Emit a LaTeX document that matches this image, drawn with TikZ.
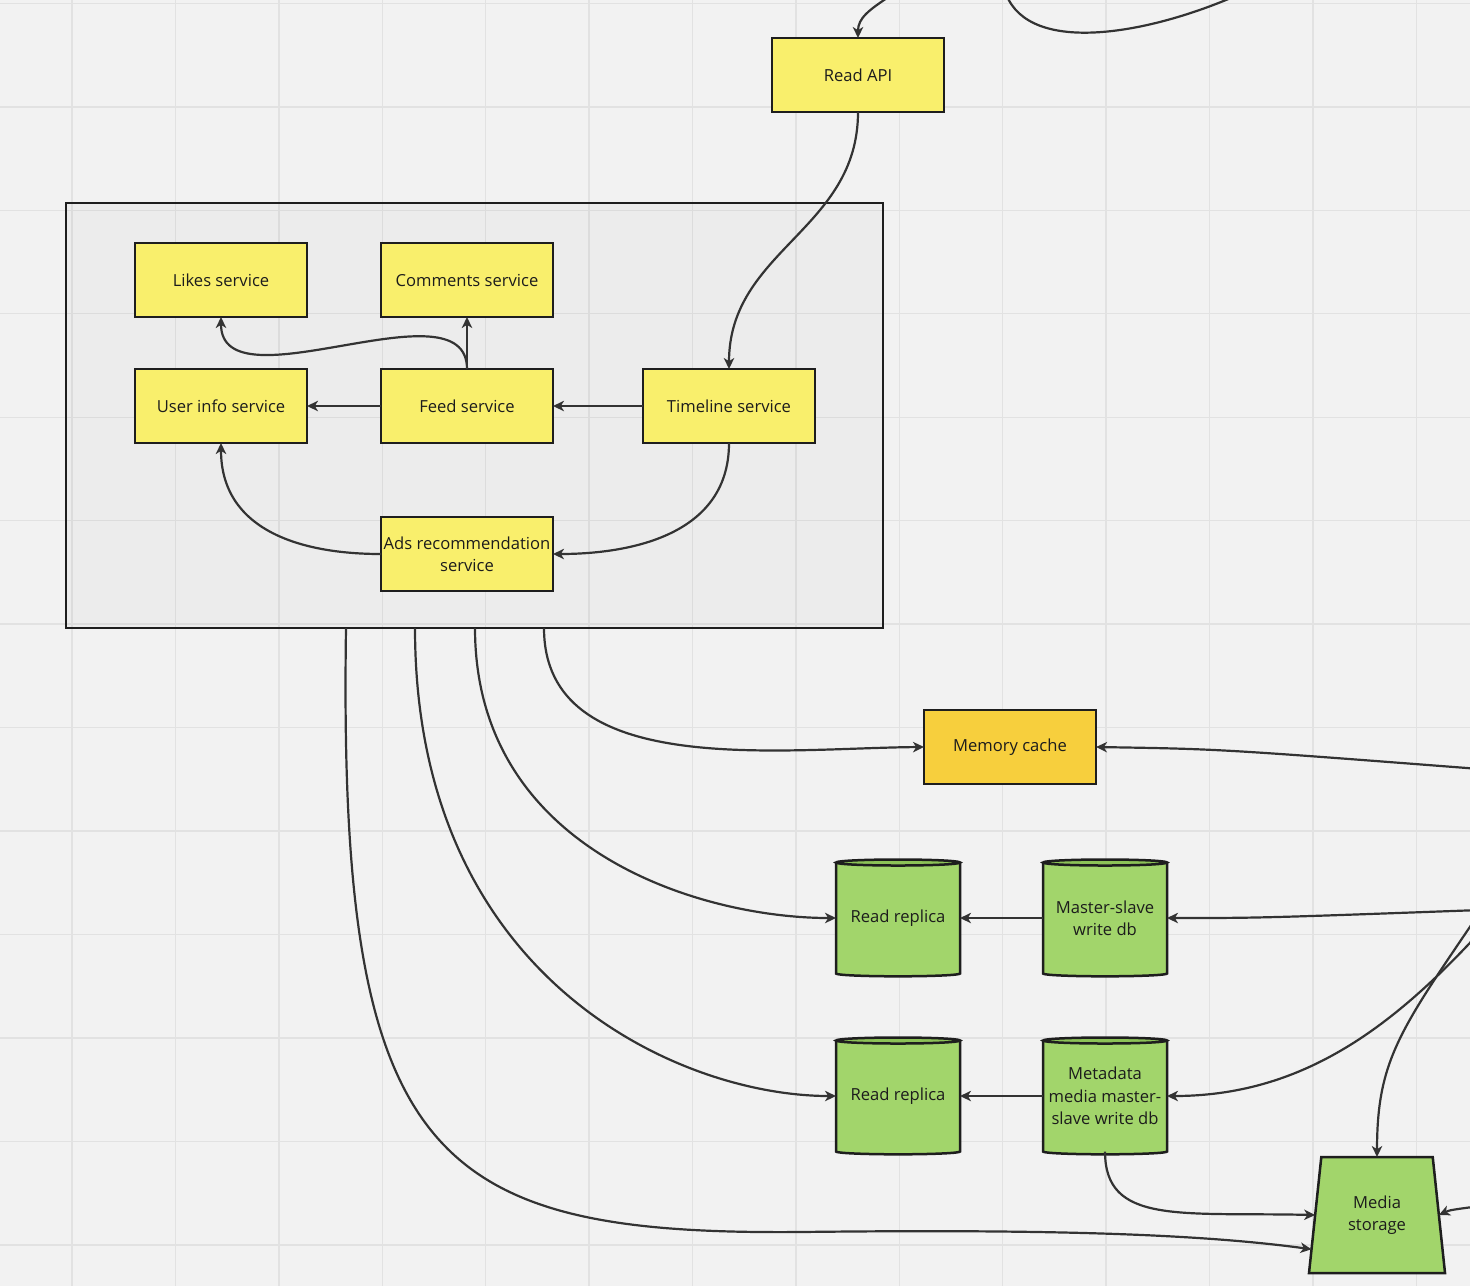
\documentclass[tikz,border=0pt]{standalone}
\usepackage{fontspec}
\setmainfont{Open Sans}
\usetikzlibrary{arrows.meta,calc,shapes.geometric,backgrounds}
\definecolor{bgc}{HTML}{F2F2F2}
\definecolor{gridc}{HTML}{E2E2E2}
\definecolor{yel}{HTML}{F9EF6C}
\definecolor{org}{HTML}{F7CF3D}
\definecolor{grn}{HTML}{A2D56B}
\definecolor{grnd}{HTML}{8CC257}
\definecolor{edgec}{HTML}{1E1E1E}
\definecolor{linec}{HTML}{333333}
\definecolor{txtc}{HTML}{1C1C1C}
\tikzset{
 every node/.style={font=\fontsize{8.3}{11.2}\selectfont, text=txtc},
 ybox/.style={draw=edgec, line width=1.25pt, fill=yel, minimum width=86pt, minimum height=37pt, inner sep=1pt, outer sep=0pt, align=center},
 obox/.style={ybox, fill=org},
 dbnode/.style={minimum width=62pt, minimum height=55.5pt, inner sep=1pt, outer sep=0pt, align=center},
 trap/.style={trapezium, trapezium angle=80.7, trapezium stretches=true, draw=edgec, line width=1.25pt, fill=grn, minimum width=68pt, minimum height=58pt, inner sep=0pt, outer sep=0pt, align=center},
 grpbox/.style={draw=edgec, line width=1pt, fill=black, fill opacity=0.025, minimum width=408.5pt, minimum height=212.5pt, outer sep=0pt},
 conn/.style={draw=linec, line width=1.1pt, -{Stealth[length=5.5pt,width=5.2pt,inset=1.6pt]}},
 plainline/.style={draw=linec, line width=1.1pt},
 gridl/.style={draw=gridc, line width=0.7pt},
}
\newcommand\dbshape[1]{%
 \fill[grn] (#1.north west) -- (#1.south west) arc[start angle=180,end angle=360,x radius=31pt,y radius=1.4pt] -- (#1.north east) arc[start angle=0,end angle=180,x radius=31pt,y radius=1.4pt] -- cycle;
 \draw[draw=edgec,line width=1.25pt] (#1.north west) -- (#1.south west) arc[start angle=180,end angle=360,x radius=31pt,y radius=1.4pt] -- (#1.north east);
 \draw[draw=edgec,line width=1.25pt,fill=grnd] (#1.north) ellipse[x radius=31pt,y radius=1.5pt];
}
\begin{document}
\begin{tikzpicture}[x=0.5pt,y=-0.5pt]
\useasboundingbox (0,0) rectangle (1470,1286);
\begin{scope}[on background layer]
 \fill[bgc] (0,0) rectangle (1470,1286);
 \foreach \i in {0,...,13} {\draw[gridl] ({72+103.4*\i},0) -- ({72+103.4*\i},1286);}
 \foreach \j in {0,...,12} {\draw[gridl] (0,{3.4+103.45*\j}) -- (1470,{3.4+103.45*\j});}
\end{scope}

% group
\node[grpbox] (grp) at (474.5,415.5) {};

% nodes
\node[ybox] (ra) at (858,75) {Read API};
\node[ybox] (likes) at (221,280) {Likes service};
\node[ybox] (comm) at (467,280) {Comments service};
\node[ybox] (user) at (221,406) {User info service};
\node[ybox] (feed) at (467,406) {Feed service};
\node[ybox] (tl) at (729,406) {Timeline service};
\node[ybox] (ads) at (467,554) {Ads recommendation\\service};
\node[obox] (mc) at (1010,747) {Memory cache};
\node[dbnode] (rr1) at (898,918) {Read replica};
\node[dbnode] (msw) at (1105,918) {Master-slave\\write db};
\node[dbnode] (rr2) at (898,1096) {Read replica};
\node[dbnode] (mmw) at (1105,1096) {Metadata\\media master-\\slave write db};
\node[trap] (mst) at (1377,1215) {Media\\storage};

\begin{scope}[on background layer]
 \dbshape{rr1}\dbshape{msw}\dbshape{rr2}\dbshape{mmw}
\end{scope}

% free ends
\coordinate (in1) at (890,-4);
\coordinate (t1) at (1006,-6);
\coordinate (t2) at (1240,-6);
\coordinate (mcR) at (1480,769);
\coordinate (mswR) at (1480,910);
\coordinate (mmwR) at (1480,932);
\coordinate (mstR) at (1480,912);
\coordinate (mstR2) at (1480,1206);

% connectors
\draw[conn] (in1) .. controls (869,10) and (858,18) .. (ra.north);
\draw[plainline] (t1) .. controls (1030,56) and (1150,34) .. (t2);
\draw[conn] (ra.south) .. controls (858,230) and (729,250) .. (tl.north);
\draw[conn] (tl.west) -- (feed.east);
\draw[conn] (feed.west) -- (user.east);
\draw[conn] (feed.north) -- (comm.south);
\draw[conn] (feed.north) .. controls (467,280) and (221,410) .. (likes.south);
\draw[conn] (tl.south) .. controls (729,540) and (620,554) .. (ads.east);
\draw[conn] (ads.west) .. controls (300,554) and (221,530) .. (user.south);

\draw[conn] ($(grp.south west)+(478,0)$) .. controls (544,780) and (780,748) .. (mc.west);
\draw[conn] ($(grp.south west)+(409,0)$) .. controls (475,850) and (700,918) .. (rr1.west);
\draw[conn] ($(grp.south west)+(349,0)$) .. controls (415,980) and (680,1096) .. (rr2.west);
\draw[conn] ($(grp.south west)+(280,0)$) .. controls (338,1160) and (430,1235) .. (800,1232) .. controls (1050,1229) and (1200,1234) .. ($(mst.left side)!0.59!(mst.bottom left corner)$);

\draw[conn] (mcR) .. controls (1220,749) .. (mc.east);
\draw[conn] (mswR) .. controls (1260,918) .. (msw.east);
\draw[conn] (msw.west) -- (rr1.east);
\draw[conn] (mmw.west) -- (rr2.east);
\draw[conn] (mmwR) .. controls (1390,1030) and (1300,1096) .. (mmw.east);
\draw[conn] (mstR) .. controls (1400,1030) and (1377,1060) .. (mst.north);
\draw[conn] (mmw.south) .. controls (1105,1225) and (1180,1212) .. (mst.left side);
\draw[conn] (mstR2) .. controls (1450,1210) .. (mst.right side);
\end{tikzpicture}
\end{document}
